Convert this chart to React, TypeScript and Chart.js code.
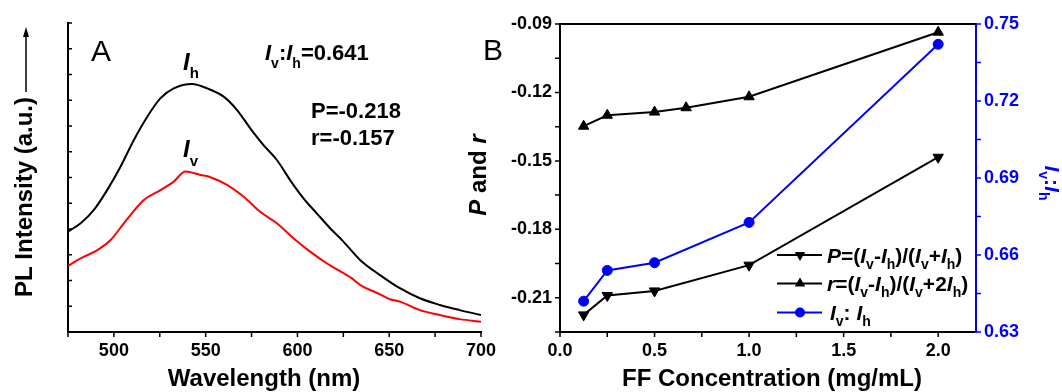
import React, { useEffect, useRef } from 'react';
import { Chart, registerables } from 'chart.js';

Chart.register(...registerables);

const FONT = '"Liberation Sans", Arial, Helvetica, sans-serif';
const BLUE = '#0000ff';
const RED = '#ff0000';

// ---------- Panel A: PL spectra ----------
const hWavelength = [475, 481.9, 489.1, 496.4, 503.6, 510.9, 518.2, 525.4, 532.6, 542.6, 550.8, 559.8, 567.1, 574.3, 581.5, 588.8, 596.0, 603.3, 610.5, 617.8, 624.8, 634.1, 645.0, 655.8, 666.7, 677.6, 688.4, 700];
const hIntensity = [3.9, 4.22, 4.74, 5.52, 6.42, 7.46, 8.36, 9.08, 9.46, 9.63, 9.46, 9.14, 8.62, 7.91, 7.26, 6.68, 5.9, 5.19, 4.61, 4.03, 3.53, 2.8, 2.21, 1.7, 1.31, 1.05, 0.85, 0.66];
const vWavelength = [475, 481.9, 491.0, 498.2, 505.4, 516.3, 525.4, 532.6, 539.0, 547.1, 552.6, 561.6, 570.7, 579.7, 588.8, 597.8, 606.9, 615.9, 629.5, 634.1, 645.0, 650.4, 655.8, 666.7, 677.6, 688.4, 700];
const vIntensity = [2.57, 2.86, 3.18, 3.57, 4.22, 5.13, 5.51, 5.84, 6.23, 6.1, 6.01, 5.71, 5.25, 4.67, 4.22, 3.64, 3.12, 2.67, 2.09, 1.83, 1.46, 1.27, 1.18, 0.85, 0.66, 0.5, 0.4];
const wavelengthLabels = [500, 550, 600, 650, 700];
const annotRatio = [{ t: 'I', it: true }, { t: 'v', sub: true }, { t: ':' }, { t: 'I', it: true }, { t: 'h', sub: true }, { t: '=0.641' }];
const annotP = 'P=-0.218';
const annotR = 'r=-0.157';

// ---------- Panel B: anisotropy vs concentration ----------
const concP = [0.125, 0.25, 0.5, 1.0, 2.0];
const valP = [-0.2175, -0.209, -0.207, -0.1957, -0.1484];
const concR = [0.125, 0.25, 0.5, 0.667, 1.0, 2.0];
const valR = [-0.1348, -0.130, -0.1286, -0.1267, -0.1219, -0.0936];
const concRatio = [0.125, 0.25, 0.5, 1.0, 2.0];
const valRatio = [0.642, 0.654, 0.657, 0.6727, 0.7421];
const concLabels = [0, 0.5, 1, 1.5, 2];
const prLabels = [-0.21, -0.18, -0.15, -0.12, -0.09];
const ratioLabels = [0.63, 0.66, 0.69, 0.72, 0.75];
const legendP = [{ t: 'P', it: true }, { t: '=(' }, { t: 'I', it: true }, { t: 'v', sub: true }, { t: '-' }, { t: 'I', it: true }, { t: 'h', sub: true }, { t: ')/(' }, { t: 'I', it: true }, { t: 'v', sub: true }, { t: '+' }, { t: 'I', it: true }, { t: 'h', sub: true }, { t: ')' }];
const legendR = [{ t: 'r', it: true }, { t: '=(' }, { t: 'I', it: true }, { t: 'v', sub: true }, { t: '-' }, { t: 'I', it: true }, { t: 'h', sub: true }, { t: ')/(' }, { t: 'I', it: true }, { t: 'v', sub: true }, { t: '+2' }, { t: 'I', it: true }, { t: 'h', sub: true }, { t: ')' }];
const legendRatio = [{ t: 'I', it: true }, { t: 'v', sub: true }, { t: ': ' }, { t: 'I', it: true }, { t: 'h', sub: true }];

const BX = 440; // left offset of panel B canvas

type Seg = { t: string; it?: boolean; sub?: boolean };

function drawRich(ctx: CanvasRenderingContext2D, segs: Seg[], x: number, y: number, size: number, subSize: number, subDy: number, color: string, align: 'left' | 'center' = 'left', weight = 'bold') {
  ctx.save();
  ctx.fillStyle = color;
  ctx.textBaseline = 'alphabetic';
  ctx.textAlign = 'left';
  const f = (s: Seg) => `${s.it ? 'italic ' : ''}${weight} ${s.sub ? subSize : size}px ${FONT}`;
  let w = 0;
  for (const s of segs) { ctx.font = f(s); w += ctx.measureText(s.t).width; }
  let cx = align === 'center' ? x - w / 2 : x;
  for (const s of segs) {
    ctx.font = f(s);
    ctx.fillText(s.t, cx, s.sub ? y + subDy : y);
    cx += ctx.measureText(s.t).width;
  }
  ctx.restore();
}

function drawRichRot(ctx: CanvasRenderingContext2D, segs: Seg[], cx: number, cy: number, angle: number, size: number, subSize: number, subDy: number, color: string) {
  ctx.save();
  ctx.translate(cx, cy);
  ctx.rotate(angle);
  drawRich(ctx, segs, 0, 0, size, subSize, subDy, color, 'center');
  ctx.restore();
}

function tickMarks(ctx: CanvasRenderingContext2D, scale: any, side: string, len: number, color: string) {
  ctx.save();
  ctx.strokeStyle = color;
  ctx.lineWidth = 1.5;
  ctx.beginPath();
  for (const t of scale.ticks) {
    const p = scale.getPixelForValue(t.value);
    if (side === 'bottom') { ctx.moveTo(p, scale.top); ctx.lineTo(p, scale.top + len); }
    else if (side === 'left') { ctx.moveTo(scale.right, p); ctx.lineTo(scale.right - len, p); }
    else if (side === 'leftIn') { ctx.moveTo(scale.right, p); ctx.lineTo(scale.right + len, p); }
    else if (side === 'right') { ctx.moveTo(scale.left, p); ctx.lineTo(scale.left + len, p); }
  }
  ctx.stroke();
  ctx.restore();
}

const near = (a: number, b: number) => Math.abs(a - b) < 1e-6;
const tickFont = { family: FONT, size: 18, weight: 'bold' as const };
const noGrid = { display: false, drawTicks: false, tickLength: 0 };

const panelAPlugin = {
  id: 'panelA',
  afterDraw(chart: any) {
    const ctx = chart.ctx as CanvasRenderingContext2D;
    tickMarks(ctx, chart.scales.x, 'bottom', 5, '#000');
    tickMarks(ctx, chart.scales.y, 'leftIn', 4, '#000');
    // axis titles
    drawRich(ctx, [{ t: 'Wavelength (nm)' }], 264, 386, 24, 16, 6, '#000', 'center');
    drawRichRot(ctx, [{ t: 'PL Intensity (a.u.)' }], 32, 197, -Math.PI / 2, 24, 16, 6, '#000');
    // arrow
    ctx.save();
    ctx.strokeStyle = '#000';
    ctx.fillStyle = '#000';
    ctx.lineWidth = 1.5;
    ctx.beginPath(); ctx.moveTo(26, 92); ctx.lineTo(26, 34); ctx.stroke();
    ctx.beginPath(); ctx.moveTo(26, 27); ctx.lineTo(29, 37); ctx.lineTo(23, 37); ctx.closePath(); ctx.fill();
    ctx.restore();
    // annotations
    drawRich(ctx, [{ t: 'A' }], 91, 61, 30, 20, 6, '#000', 'left', 'normal');
    drawRich(ctx, [{ t: 'I', it: true }, { t: 'h', sub: true }], 183, 70, 24, 15, 8, '#000');
    drawRich(ctx, [{ t: 'I', it: true }, { t: 'v', sub: true }], 183, 157, 24, 15, 9, '#000');
    drawRich(ctx, annotRatio, 265, 60, 22, 14, 8, '#000');
    drawRich(ctx, [{ t: annotP }], 311, 118, 22, 14, 6, '#000');
    drawRich(ctx, [{ t: annotR }], 311, 145, 22, 14, 6, '#000');
  },
};

function legendMarker(ctx: CanvasRenderingContext2D, kind: string, x: number, y: number, color: string) {
  ctx.save();
  ctx.fillStyle = color;
  ctx.beginPath();
  const r = 6;
  if (kind === 'down') {
    ctx.moveTo(x, y + r); ctx.lineTo(x + r * 0.866, y - r / 2); ctx.lineTo(x - r * 0.866, y - r / 2);
  } else if (kind === 'up') {
    ctx.moveTo(x, y - r); ctx.lineTo(x + r * 0.866, y + r / 2); ctx.lineTo(x - r * 0.866, y + r / 2);
  } else {
    ctx.arc(x, y, 5, 0, Math.PI * 2);
  }
  ctx.closePath();
  ctx.fill();
  ctx.restore();
}

const panelBPlugin = {
  id: 'panelB',
  afterDraw(chart: any) {
    const ctx = chart.ctx as CanvasRenderingContext2D;
    const area = chart.chartArea;
    // top frame line
    ctx.save();
    ctx.strokeStyle = '#000';
    ctx.lineWidth = 2;
    ctx.beginPath(); ctx.moveTo(area.left, area.top); ctx.lineTo(area.right, area.top); ctx.stroke();
    ctx.restore();
    tickMarks(ctx, chart.scales.x, 'bottom', 5, '#000');
    tickMarks(ctx, chart.scales.y, 'left', 5, '#000');
    tickMarks(ctx, chart.scales.y1, 'right', 5, BLUE);
    // titles
    drawRich(ctx, [{ t: 'FF Concentration (mg/mL)' }], 772 - BX, 386, 24, 16, 6, '#000', 'center');
    drawRichRot(ctx, [{ t: 'P', it: true }, { t: ' and ' }, { t: 'r', it: true }], 486 - BX, 175, -Math.PI / 2, 24, 16, 6, '#000');
    drawRichRot(ctx, legendRatio.map((s) => (s.t === ': ' ? { t: ':' } : s)), 1045 - BX, 183, Math.PI / 2, 21, 14, 6, BLUE);
    drawRich(ctx, [{ t: 'B' }], 483 - BX, 60, 30, 20, 6, '#000', 'left', 'normal');
    // legend
    const rows = [
      { segs: legendP, y: 255, color: '#000', kind: 'down', tx: 827 },
      { segs: legendR, y: 283.5, color: '#000', kind: 'up', tx: 827 },
      { segs: legendRatio, y: 312.5, color: BLUE, kind: 'circle', tx: 830 },
    ];
    for (const r of rows) {
      ctx.save();
      ctx.strokeStyle = r.color;
      ctx.lineWidth = 2;
      ctx.beginPath(); ctx.moveTo(777 - BX, r.y); ctx.lineTo(822 - BX, r.y); ctx.stroke();
      ctx.restore();
      legendMarker(ctx, r.kind, 800 - BX, r.y, r.color);
      drawRich(ctx, r.segs as Seg[], r.tx - BX, r.y + 7.5, 21, 14, 6, '#000');
    }
  },
};

export default function App() {
  const refA = useRef<HTMLCanvasElement>(null);
  const refB = useRef<HTMLCanvasElement>(null);

  useEffect(() => {
    const chartA = new Chart(refA.current as HTMLCanvasElement, {
      type: 'line',
      data: {
        datasets: [
          { data: hWavelength.map((x, i) => ({ x, y: hIntensity[i] })), borderColor: '#000', borderWidth: 2, pointRadius: 0, cubicInterpolationMode: 'monotone', fill: false },
          { data: vWavelength.map((x, i) => ({ x, y: vIntensity[i] })), borderColor: RED, borderWidth: 2, pointRadius: 0, cubicInterpolationMode: 'monotone', fill: false },
        ],
      },
      options: {
        responsive: false,
        animation: false,
        devicePixelRatio: 1,
        layout: { padding: { left: 0, top: 23, right: 59, bottom: 0 } },
        plugins: { legend: { display: false }, tooltip: { enabled: false } },
        scales: {
          x: {
            type: 'linear', min: 475, max: 700,
            afterFit: (s: any) => { s.height = 60; },
            grid: noGrid,
            border: { display: true, color: '#000', width: 2 },
            ticks: {
              stepSize: 25, autoSkip: false, maxRotation: 0, includeBounds: false,
              font: tickFont, color: '#000', padding: 8,
              callback: (v: any) => (wavelengthLabels.some((l) => near(l, v)) ? String(v) : ''),
            },
          },
          y: {
            type: 'linear', min: 0, max: 12,
            afterFit: (s: any) => { s.width = 68; },
            grid: noGrid,
            border: { display: true, color: '#000', width: 2 },
            ticks: { display: false, stepSize: 1 },
          },
        },
      } as any,
      plugins: [panelAPlugin],
    });

    const chartB = new Chart(refB.current as HTMLCanvasElement, {
      type: 'line',
      data: {
        datasets: [
          { data: concP.map((x, i) => ({ x, y: valP[i] })), yAxisID: 'y', borderColor: '#000', backgroundColor: '#000', borderWidth: 2, pointStyle: 'triangle', rotation: 180, pointRadius: 6, pointBorderWidth: 1, tension: 0 },
          { data: concR.map((x, i) => ({ x, y: valR[i] })), yAxisID: 'y', borderColor: '#000', backgroundColor: '#000', borderWidth: 2, pointStyle: 'triangle', pointRadius: 6, pointBorderWidth: 1, tension: 0 },
          { data: concRatio.map((x, i) => ({ x, y: valRatio[i] })), yAxisID: 'y1', borderColor: BLUE, backgroundColor: BLUE, borderWidth: 2, pointStyle: 'circle', pointRadius: 5, pointBorderWidth: 1, tension: 0 },
        ],
      },
      options: {
        responsive: false,
        animation: false,
        devicePixelRatio: 1,
        layout: { padding: { left: 0, top: 24, right: 0, bottom: 0 } },
        plugins: { legend: { display: false }, tooltip: { enabled: false } },
        scales: {
          x: {
            type: 'linear', min: 0, max: 2.2,
            afterFit: (s: any) => { s.height = 60; },
            grid: noGrid,
            border: { display: true, color: '#000', width: 2 },
            ticks: {
              stepSize: 0.25, autoSkip: false, maxRotation: 0, includeBounds: false,
              font: tickFont, color: '#000', padding: 8,
              callback: (v: any) => (concLabels.some((l) => near(l, v)) ? Number(v).toFixed(1) : ''),
            },
          },
          y: {
            type: 'linear', position: 'left', min: -0.225, max: -0.09,
            afterFit: (s: any) => { s.width = 560 - BX; },
            grid: noGrid,
            border: { display: true, color: '#000', width: 2 },
            ticks: {
              stepSize: 0.015, autoSkip: false, includeBounds: false,
              font: tickFont, color: '#000', padding: 8,
              callback: (v: any) => (prLabels.some((l) => near(l, v)) ? Number(v).toFixed(2) : ''),
            },
          },
          y1: {
            type: 'linear', position: 'right', min: 0.63, max: 0.75,
            afterFit: (s: any) => { s.width = 622 - (976 - BX); },
            grid: noGrid,
            border: { display: true, color: BLUE, width: 2 },
            ticks: {
              stepSize: 0.015, autoSkip: false, includeBounds: false,
              font: tickFont, color: BLUE, padding: 8,
              callback: (v: any) => (ratioLabels.some((l) => near(l, v)) ? Number(v).toFixed(2) : ''),
            },
          },
        },
      } as any,
      plugins: [panelBPlugin],
    });

    return () => { chartA.destroy(); chartB.destroy(); };
  }, []);

  return (
    <div style={{ position: 'fixed', left: 0, top: 0, width: 1062, height: 392, background: '#fff', overflow: 'hidden' }}>
      <canvas ref={refA} width={540} height={392} style={{ position: 'absolute', left: 0, top: 0 }} />
      <canvas ref={refB} width={622} height={392} style={{ position: 'absolute', left: BX, top: 0 }} />
    </div>
  );
}
